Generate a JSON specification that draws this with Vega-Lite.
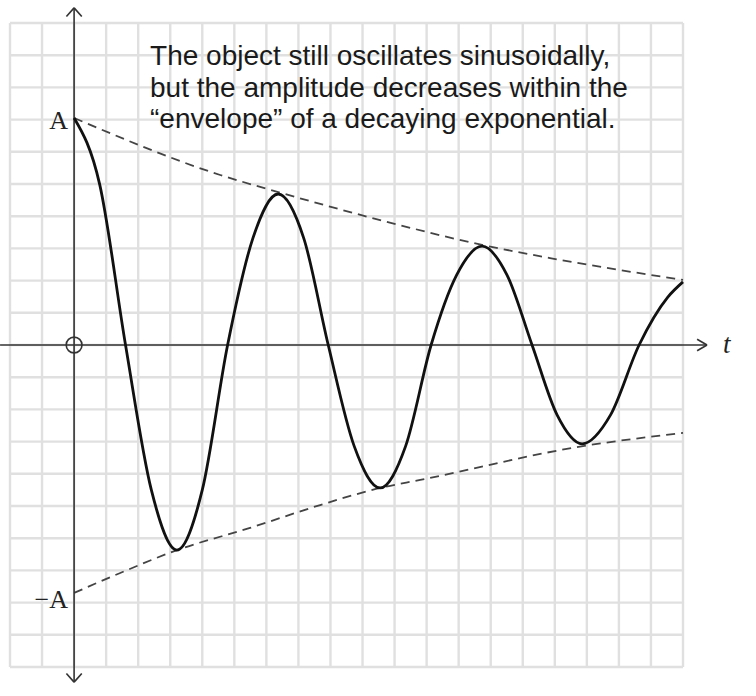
{
  "$schema": "https://vega.github.io/schema/vega-lite/v6.json",
  "autosize": {"type": "none"},
  "width": 673,
  "height": 644,
  "padding": {"left": 10, "top": 23, "right": 73, "bottom": 29},
  "background": "white",
  "config": {"view": {"stroke": null}},
  "datasets": {
    "gridx": [
      {"v": -2}, {"v": -1}, {"v": 0}, {"v": 1}, {"v": 2}, {"v": 3}, {"v": 4}, {"v": 5}, {"v": 6}, {"v": 7}, {"v": 8},
      {"v": 9}, {"v": 10}, {"v": 11}, {"v": 12}, {"v": 13}, {"v": 14}, {"v": 15}, {"v": 16}, {"v": 17}, {"v": 18}, {"v": 19}
    ],
    "gridy": [
      {"v": -10}, {"v": -9}, {"v": -8}, {"v": -7}, {"v": -6}, {"v": -5}, {"v": -4}, {"v": -3}, {"v": -2}, {"v": -1}, {"v": 0},
      {"v": 1}, {"v": 2}, {"v": 3}, {"v": 4}, {"v": 5}, {"v": 6}, {"v": 7}, {"v": 8}, {"v": 9}, {"v": 10}
    ],
    "curve": [
      {"t": 0, "y": 7.05},
      {"t": 0.8, "y": 4.98},
      {"t": 1.605, "y": 0},
      {"t": 2.41, "y": -4.5},
      {"t": 3.21, "y": -6.37},
      {"t": 4.0, "y": -4.5},
      {"t": 4.79, "y": 0},
      {"t": 5.58, "y": 3.32},
      {"t": 6.37, "y": 4.69},
      {"t": 7.165, "y": 3.32},
      {"t": 7.93, "y": 0},
      {"t": 8.74, "y": -3.14},
      {"t": 9.55, "y": -4.44},
      {"t": 10.345, "y": -3.14},
      {"t": 11.14, "y": 0},
      {"t": 11.935, "y": 2.17},
      {"t": 12.73, "y": 3.07},
      {"t": 13.51, "y": 2.17},
      {"t": 14.29, "y": 0},
      {"t": 15.07, "y": -2.17},
      {"t": 15.85, "y": -3.07},
      {"t": 16.74, "y": -2.17},
      {"t": 17.63, "y": 0},
      {"t": 18.52, "y": 1.48},
      {"t": 19.0, "y": 1.96}
    ],
    "envelope": [
      {"side": "upper", "t": 0, "y": 7.05},
      {"side": "upper", "t": 4.56, "y": 5.28},
      {"side": "upper", "t": 6.37, "y": 4.75},
      {"side": "upper", "t": 9.55, "y": 3.88},
      {"side": "upper", "t": 12.73, "y": 3.11},
      {"side": "upper", "t": 14.85, "y": 2.7},
      {"side": "upper", "t": 19.0, "y": 2.02},
      {"side": "lower", "t": 0, "y": -7.7},
      {"side": "lower", "t": 1.44, "y": -7.08},
      {"side": "lower", "t": 3.21, "y": -6.37},
      {"side": "lower", "t": 5.49, "y": -5.68},
      {"side": "lower", "t": 7.68, "y": -4.97},
      {"side": "lower", "t": 9.55, "y": -4.44},
      {"side": "lower", "t": 10.8, "y": -4.19},
      {"side": "lower", "t": 15.88, "y": -3.14},
      {"side": "lower", "t": 19.0, "y": -2.73}
    ],
    "axes": [
      {"x": -2.31, "y": 0, "x2": 19.75, "y2": 0},
      {"x": 0, "y": -10.47, "x2": 0, "y2": 10.47},
      {"x": -0.24, "y": 10.2, "x2": 0, "y2": 10.47},
      {"x": 0.24, "y": 10.2, "x2": 0, "y2": 10.47},
      {"x": -0.24, "y": -10.2, "x2": 0, "y2": -10.47},
      {"x": 0.24, "y": -10.2, "x2": 0, "y2": -10.47},
      {"x": 19.44, "y": 0.18, "x2": 19.75, "y2": 0},
      {"x": 19.44, "y": -0.18, "x2": 19.75, "y2": 0}
    ],
    "origin": [{"x": 0, "y": 0}],
    "amp": [
      {"x": -0.19, "y": 6.96, "label": "A"},
      {"x": -0.19, "y": -7.92, "label": "−A"}
    ],
    "tlabel": [{"x": 20.25, "y": -0.25, "label": "t"}],
    "note": [
      {"x": 2.37, "y": 8.7, "label": "The object still oscillates sinusoidally,"},
      {"x": 2.37, "y": 7.7, "label": "but the amplitude decreases within the"},
      {"x": 2.37, "y": 6.74, "label": "“envelope” of a decaying exponential."}
    ]
  },
  "layer": [
    {
      "data": {"name": "gridx"},
      "mark": {"type": "rule", "color": "#e0e0e0", "strokeWidth": 2.4},
      "encoding": {
        "x": {
          "field": "v", "type": "quantitative",
          "scale": {"domain": [-2, 19], "nice": false, "zero": false},
          "axis": null
        }
      }
    },
    {
      "data": {"name": "gridy"},
      "mark": {"type": "rule", "color": "#e0e0e0", "strokeWidth": 2.4},
      "encoding": {
        "y": {
          "field": "v", "type": "quantitative",
          "scale": {"domain": [-10, 10], "nice": false, "zero": false},
          "axis": null
        }
      }
    },
    {
      "data": {"name": "envelope"},
      "mark": {"type": "line", "interpolate": "monotone", "color": "#444", "strokeWidth": 1.8, "strokeDash": [9, 6]},
      "encoding": {
        "x": {"field": "t", "type": "quantitative", "axis": null},
        "y": {"field": "y", "type": "quantitative", "axis": null},
        "detail": {"field": "side"}
      }
    },
    {
      "data": {"name": "axes"},
      "mark": {"type": "rule", "color": "#333", "strokeWidth": 1.6},
      "encoding": {
        "x": {"field": "x", "type": "quantitative", "axis": null},
        "y": {"field": "y", "type": "quantitative", "axis": null},
        "x2": {"field": "x2"},
        "y2": {"field": "y2"}
      }
    },
    {
      "data": {"name": "curve"},
      "mark": {"type": "line", "interpolate": "monotone", "color": "#111", "strokeWidth": 2.8},
      "encoding": {
        "x": {"field": "t", "type": "quantitative", "axis": null},
        "y": {"field": "y", "type": "quantitative", "axis": null}
      }
    },
    {
      "data": {"name": "origin"},
      "mark": {"type": "point", "shape": "circle", "filled": false, "size": 250, "color": "#333", "strokeWidth": 1.6, "opacity": 1},
      "encoding": {
        "x": {"field": "x", "type": "quantitative", "axis": null},
        "y": {"field": "y", "type": "quantitative", "axis": null}
      }
    },
    {
      "data": {"name": "amp"},
      "mark": {"type": "text", "font": "Liberation Serif", "fontSize": 26, "align": "right", "baseline": "middle", "color": "#222"},
      "encoding": {
        "x": {"field": "x", "type": "quantitative", "axis": null},
        "y": {"field": "y", "type": "quantitative", "axis": null},
        "text": {"field": "label"}
      }
    },
    {
      "data": {"name": "tlabel"},
      "mark": {"type": "text", "font": "Liberation Serif", "fontStyle": "italic", "fontSize": 27, "align": "left", "baseline": "alphabetic", "color": "#222"},
      "encoding": {
        "x": {"field": "x", "type": "quantitative", "axis": null},
        "y": {"field": "y", "type": "quantitative", "axis": null},
        "text": {"field": "label"}
      }
    },
    {
      "data": {"name": "note"},
      "mark": {"type": "text", "font": "Liberation Sans", "fontSize": 28, "align": "left", "baseline": "alphabetic", "color": "#1a1a1a"},
      "encoding": {
        "x": {"field": "x", "type": "quantitative", "axis": null},
        "y": {"field": "y", "type": "quantitative", "axis": null},
        "text": {"field": "label"}
      }
    }
  ]
}
